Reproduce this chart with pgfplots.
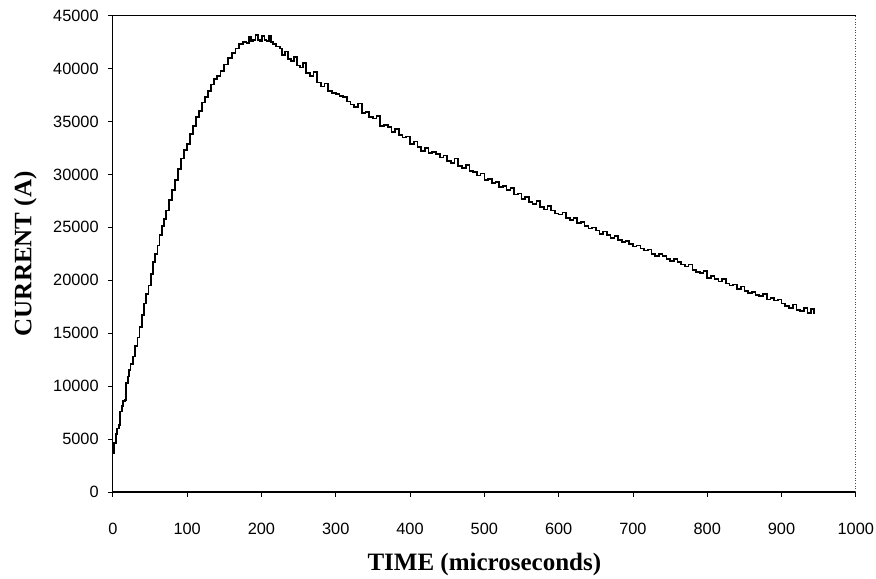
\documentclass[border=0pt]{standalone}
\usepackage{pgfplots}
\pgfplotsset{compat=1.18}
\usepackage{fontspec}
\setmainfont{Liberation Serif}
\newfontfamily\tickfont{Liberation Sans}

\begin{document}
\begin{tikzpicture}
\begin{axis}[
    scale only axis,
    width=445.8pt, height=285.8pt,
    xmin=0, xmax=1000,
    ymin=0, ymax=45000,
    xtick={0,100,...,1000},
    ytick={0,5000,...,45000},
    scaled y ticks=false,
    /pgf/number format/.cd, 1000 sep={}, assume math mode=true, /pgfplots/.cd,
    axis x line=box, axis y line=left,
    axis line style={-, black, line width=0.8pt},
    xtick pos=left, ytick pos=left,
    tick align=outside,
    major tick length=3pt,
    tick style={black, line width=0.5pt},
    ticklabel style={font=\tickfont\fontsize{9.8}{11}\selectfont},
    xticklabel style={yshift=-12pt},
    yticklabel style={xshift=-2pt},
    xlabel={TIME (microseconds)},
    ylabel={CURRENT (A)},
    label style={font=\fontsize{15}{18}\selectfont\bfseries},
    xlabel style={at={([yshift=-43.5pt]axis description cs:0.5,0)}, anchor=center},
    ylabel style={at={([xshift=-52.5pt]axis description cs:0,0.5)}, anchor=center},
]
\addplot[const plot, black, line width=1pt] coordinates {
(0,3700)(2,4600)(4,5500)(6,6000)(8,6300)(10,7600)(12,8100)(14,8600)(16,8700)(18,10300)
(20,10900)(22,11500)(24,12100)(27,12800)(30,13800)(33,14600)(36,15600)(39,16700)(42,17800)(45,18700)
(48,19500)(51,20600)(54,21700)(57,22500)(60,23300)(63,24300)(66,25100)(69,25800)(72,26600)(76,27600)
(80,28500)(84,29500)(88,30500)(92,31500)(96,32300)(100,32900)(104,33800)(108,34600)(112,35400)(116,36000)
(120,36800)(124,37300)(128,37900)(132,38500)(136,39000)(140,39300)(145,39800)(150,40400)(155,41000)(160,41500)
(165,41900)(170,42300)(175,42500)(180,42400)(183,43000)(186,42600)(189,42700)(192,43200)(195,42700)(198,42600)
(201,43100)(204,42700)(207,42600)(210,43100)(213,42500)(216,42300)(220,42100)(225,41900)(228,41300)(232,41600)
(236,40900)(240,40700)(244,41100)(248,40300)(252,40100)(256,40500)(260,39600)(265,39300)(270,39700)(275,38700)
(280,38300)(285,38600)(290,37900)(295,37700)(300,37600)(305,37400)(310,37300)(315,36900)(320,36600)(325,36400)
(330,36700)(335,35800)(340,35900)(345,35400)(350,35300)(355,35500)(360,34600)(365,34700)(370,34500)(375,34000)
(380,34300)(385,33700)(390,33500)(395,33600)(400,32900)(405,33100)(410,32600)(415,32200)(420,32500)(425,32000)
(430,32100)(435,31900)(440,31600)(445,31800)(450,31300)(455,31100)(460,31500)(465,30800)(470,30600)(475,30900)
(480,30300)(485,30200)(490,29900)(495,30100)(500,29500)(505,29600)(510,29200)(515,29300)(520,28800)(525,28900)
(530,28500)(535,28700)(540,28100)(545,28200)(550,27700)(555,27900)(560,27400)(565,27200)(570,27500)(575,26900)
(580,26700)(585,27000)(590,26600)(595,26300)(600,26200)(605,26400)(610,25900)(615,25700)(620,25900)(625,25400)
(630,25500)(635,25100)(640,24900)(645,25000)(650,24700)(655,24400)(660,24600)(665,24300)(670,24000)(675,24200)
(680,23800)(685,23600)(690,23700)(695,23400)(700,23200)(705,23300)(710,23000)(715,22800)(720,22900)(725,22500)
(730,22300)(735,22500)(740,22300)(745,22000)(750,21800)(755,22000)(760,21700)(765,21500)(770,21300)(775,21500)
(780,21000)(785,20800)(790,20700)(795,20900)(800,20200)(805,20400)(810,20100)(815,19900)(820,20100)(825,19700)
(830,19500)(835,19600)(840,19200)(845,19400)(850,19000)(855,18800)(860,18900)(865,18600)(870,18500)(875,18700)
(880,18200)(885,18300)(890,18100)(895,18200)(900,17800)(905,17600)(910,17400)(915,17700)(920,17200)(925,17100)
(930,17400)(935,16900)(940,17300)(944,16800)
};
% dotted right frame line as in the scan
\draw[densely dotted, black!70, line width=0.6pt] (rel axis cs:1,0) -- (rel axis cs:1,1);
\end{axis}
\pgfresetboundingbox
\path ([shift={(-67.7pt,-52.2pt)}]current axis.south west) rectangle ([shift={(12.1pt,9.4pt)}]current axis.north east);
\end{tikzpicture}
\end{document}
